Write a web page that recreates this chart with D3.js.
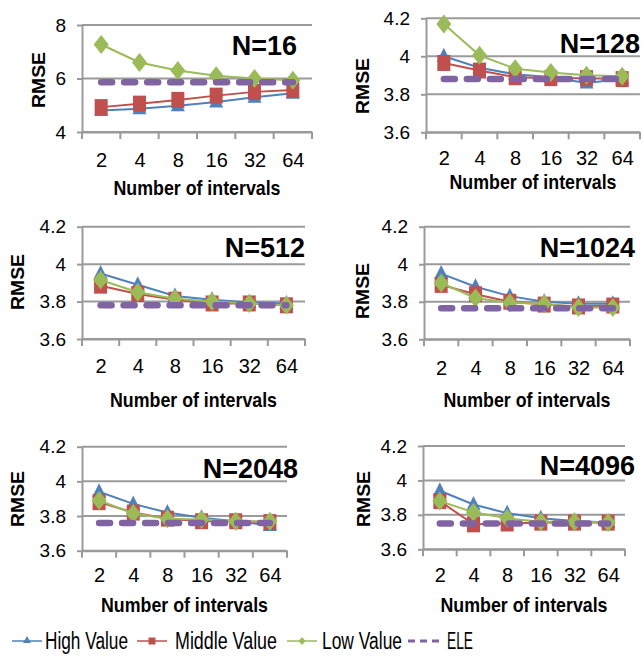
<!DOCTYPE html>
<html><head><meta charset="utf-8">
<script src="https://cdn.jsdelivr.net/npm/d3@7"></script>
<style>body{margin:0;background:#fff}svg{display:block}</style>
</head><body><svg id="c" width="643" height="659"></svg>
<script>
// ---------- data ----------
const categories = ["2","4","8","16","32","64"];
const panelTitles = ["N=16","N=128","N=512","N=1024","N=2048","N=4096"];
const seriesNames = ["High Value","Middle Value","Low Value","ELE"];
const yTicksN16 = [4,6,8];
const yTicksOther = [3.6,3.8,4,4.2];

const high16 = [4.80,4.87,4.98,5.12,5.30,5.45];
const mid16  = [4.93,5.06,5.20,5.36,5.50,5.57];
const low16  = [7.27,6.60,6.30,6.10,6.00,5.93];

const high128 = [4.00,3.94,3.905,3.89,3.86,3.88];
const mid128  = [3.965,3.925,3.89,3.885,3.885,3.88];
const low128  = [4.17,4.005,3.935,3.915,3.90,3.895];

const high512 = [3.95,3.89,3.83,3.81,3.795,3.79];
const mid512  = [3.885,3.84,3.81,3.79,3.79,3.78];
const low512  = [3.915,3.85,3.815,3.80,3.79,3.78];

const high1024 = [3.95,3.88,3.83,3.80,3.79,3.79];
const mid1024  = [3.89,3.84,3.80,3.785,3.775,3.78];
const low1024  = [3.90,3.82,3.795,3.79,3.77,3.77];

const high2048 = [3.94,3.87,3.82,3.79,3.77,3.745];
const mid2048  = [3.88,3.82,3.785,3.77,3.77,3.765];
const low2048  = [3.89,3.815,3.785,3.78,3.77,3.77];

const high4096 = [3.94,3.86,3.81,3.78,3.765,3.755];
const mid4096  = [3.88,3.745,3.75,3.755,3.755,3.755];
const low4096  = [3.88,3.815,3.78,3.76,3.76,3.755];

const eleValues = [5.86,3.88,3.78,3.765,3.76,3.75];

// ---------- layout ----------
const colors = ["#4F81BD","#C0504D","#9BBB59","#8064A2"];
const frames = [
  {l:82, r:312, t:25,    b:132,   tickY:167, titleY:195, nX:297, nY:55,  rmseX:38,  rmseY:80},
  {l:426,r:640, t:18.3,  b:132.3, tickY:165, titleY:189, nX:640, nY:53,  rmseX:362, rmseY:86},
  {l:82, r:305, t:226.7, b:339,   tickY:373, titleY:407, nX:305, nY:257, rmseX:17,  rmseY:282},
  {l:424,r:630, t:226.7, b:339.3, tickY:375, titleY:407, nX:635, nY:257, rmseX:362, rmseY:291},
  {l:82, r:287, t:446.7, b:550.7, tickY:582, titleY:612, nX:298, nY:478, rmseX:17,  rmseY:499},
  {l:423,r:625, t:446,   b:549.3, tickY:582, titleY:612, nX:635, nY:475, rmseX:363, rmseY:499}
];
const panelSeries = [
  [high16,mid16,low16],[high128,mid128,low128],[high512,mid512,low512],
  [high1024,mid1024,low1024],[high2048,mid2048,low2048],[high4096,mid4096,low4096]
];

const svg = d3.select("#c");
const NARROW = "'Liberation Sans Narrow','Liberation Sans',Arial,sans-serif";
const SANS = "'Liberation Sans',Arial,sans-serif";
const grid = "#9a9a9a";

function marker(g, type, x, y, color){
  if(type===0){ // triangle
    g.append("path").attr("d",`M${x},${y-8.5}L${x+7},${y+5.5}L${x-7},${y+5.5}Z`).attr("fill",color);
  } else if(type===1){ // square
    g.append("rect").attr("x",x-6.5).attr("y",y-8).attr("width",13).attr("height",16).attr("fill",color);
  } else if(type===2){ // diamond
    g.append("path").attr("d",`M${x},${y-9.5}L${x+7.5},${y}L${x},${y+9.5}L${x-7.5},${y}Z`).attr("fill",color);
  }
}

frames.forEach((f,pi)=>{
  const g = svg.append("g");
  const dom = pi===0 ? [4,8] : [3.6,4.2];
  const ticks = pi===0 ? yTicksN16 : yTicksOther;
  const y = d3.scaleLinear().domain(dom).range([f.b,f.t]);
  const xb = d3.scaleBand().domain(categories).range([f.l,f.r]);
  const x = d3.scalePoint().domain(categories).range([f.l,f.r]).padding(0.5);

  // gridlines
  g.selectAll("line.grid").data(ticks).enter().append("line")
    .attr("x1",f.l).attr("x2",f.r).attr("y1",d=>y(d)).attr("y2",d=>y(d))
    .attr("stroke",grid).attr("stroke-width",2);

  // y axis
  const ya = g.append("g").attr("transform",`translate(${f.l},0)`)
    .call(d3.axisLeft(y).tickValues(ticks).tickSize(5).tickPadding(11).tickFormat(d3.format("~g")).tickSizeOuter(0));
  ya.select(".domain").attr("stroke",grid).attr("stroke-width",2);
  ya.selectAll(".tick line").attr("stroke",grid).attr("stroke-width",2);
  ya.selectAll(".tick text").attr("font-family",SANS).attr("font-size",19).attr("fill","#000");

  // x axis
  const xa = g.append("g").attr("transform",`translate(0,${f.b})`)
    .call(d3.axisBottom(x).tickSize(0).tickSizeOuter(0));
  xa.select(".domain").attr("stroke",grid).attr("stroke-width",2);
  xa.selectAll(".tick text").attr("font-family",NARROW).attr("font-size",20).attr("fill","#000")
    .attr("dy",null).attr("y",f.tickY-f.b);
  // boundary tick marks
  const bounds = categories.map(c=>xb(c)).concat([xb(categories[5])+xb.bandwidth()]);
  g.selectAll("line.xt").data(bounds).enter().append("line")
    .attr("x1",d=>d).attr("x2",d=>d).attr("y1",f.b).attr("y2",f.b+7)
    .attr("stroke",grid).attr("stroke-width",2);

  // series lines + markers
  const line = d3.line().x((d,i)=>x(categories[i])).y(d=>y(d));
  panelSeries[pi].forEach((vals,si)=>{
    g.append("path").datum(vals).attr("d",line).attr("fill","none")
      .attr("stroke",colors[si]).attr("stroke-width",2);
    vals.forEach((v,i)=>marker(g,si,x(categories[i]),y(v),colors[si]));
  });
  // ELE
  const ele = categories.map(()=>eleValues[pi]);
  g.append("path").datum(ele).attr("d",line).attr("fill","none")
    .attr("stroke",colors[3]).attr("stroke-width",6.5).attr("stroke-linecap","round")
    .attr("stroke-dasharray","11,12");

  // N label
  g.append("text").attr("x",f.nX).attr("y",f.nY).attr("text-anchor","end")
    .attr("font-family",SANS).attr("font-weight","bold").attr("font-size",27).text(panelTitles[pi]);
  // axis titles
  g.append("text").attr("x",(f.l+f.r)/2).attr("y",f.titleY).attr("text-anchor","middle")
    .attr("font-family",NARROW).attr("font-weight","bold").attr("font-size",21)
    .attr("textLength",167).attr("lengthAdjust","spacingAndGlyphs").text("Number of intervals");
  g.append("text").attr("transform",`translate(${f.rmseX},${f.rmseY}) rotate(-90)`)
    .attr("text-anchor","middle").attr("dominant-baseline","central")
    .attr("font-family",SANS).attr("font-weight","bold").attr("font-size",19)
    .attr("textLength",56).attr("lengthAdjust","spacingAndGlyphs").text("RMSE");
});

// legend
const legendItems = [
  {x1:12,x2:42,tx:45,tw:83},
  {x1:137,x2:167,tx:175,tw:102},
  {x1:287,x2:317,tx:322,tw:80},
  {x1:408,x2:440,tx:447,tw:26}
];
const lg = svg.append("g");
legendItems.forEach((it,i)=>{
  const ly = 641;
  if(i<3){
    lg.append("line").attr("x1",it.x1).attr("x2",it.x2).attr("y1",ly).attr("y2",ly)
      .attr("stroke",colors[i]).attr("stroke-width",1.5);
    const mx=(it.x1+it.x2)/2;
    if(i===0) lg.append("path").attr("d",`M${mx},${ly-5}L${mx+4},${ly+2}L${mx-4},${ly+2}Z`).attr("fill",colors[i]);
    if(i===1) lg.append("rect").attr("x",mx-3.5).attr("y",ly-3.5).attr("width",7).attr("height",7).attr("fill",colors[i]);
    if(i===2) lg.append("path").attr("d",`M${mx},${ly-4}L${mx+3.5},${ly}L${mx},${ly+4}L${mx-3.5},${ly}Z`).attr("fill",colors[i]);
  } else {
    lg.append("line").attr("x1",it.x1).attr("x2",it.x2).attr("y1",ly).attr("y2",ly)
      .attr("stroke",colors[3]).attr("stroke-width",3).attr("stroke-dasharray","7,5");
  }
  lg.append("text").attr("x",it.tx).attr("y",649).attr("font-family",NARROW).attr("font-size",23)
    .attr("textLength",it.tw).attr("lengthAdjust","spacingAndGlyphs").attr("fill","#000").text(seriesNames[i]);
});
</script></body></html>
